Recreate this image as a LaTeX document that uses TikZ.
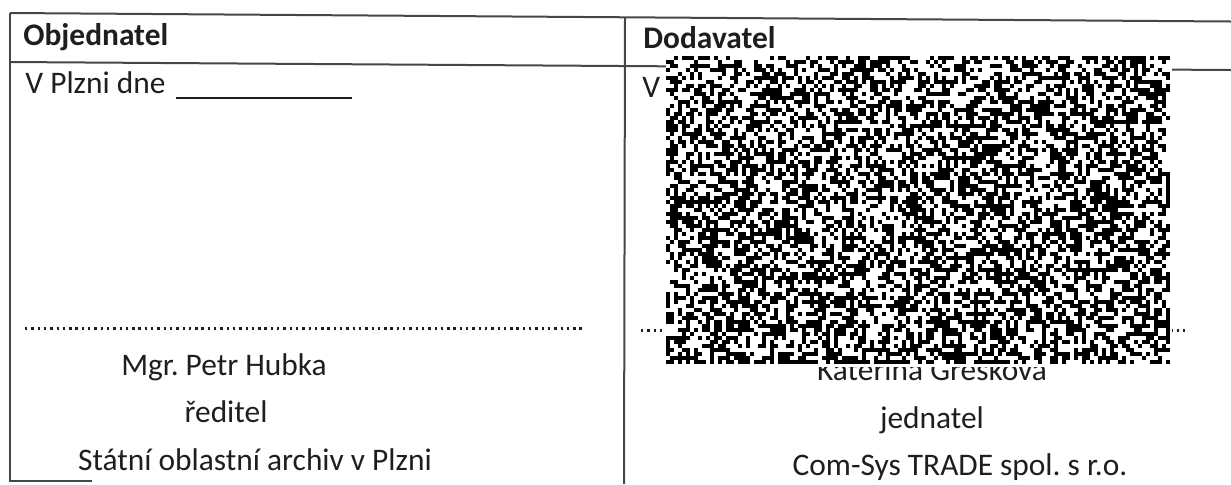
\documentclass[tikz,border=0pt]{standalone}
\usepackage{fontspec}
\setmainfont{Carlito}
\frenchspacing
\definecolor{ruleColor}{RGB}{70,70,70}
\definecolor{textColor}{RGB}{30,30,30}
\tikzset{cellText/.style={anchor=base west, inner sep=0pt, text=textColor, font=\fontsize{15.7}{19}\selectfont}}
\tikzset{headText/.style={cellText, font=\fontsize{15.7}{19}\selectfont\bfseries}}
\tikzset{signText/.style={cellText, anchor=base}}
\tikzset{tableRule/.style={draw=ruleColor, line width=1pt}}
\tikzset{dotRule/.style={draw=textColor, line width=1.5pt, dash pattern=on 1.2pt off 1.95pt}}

\begin{document}
\begin{tikzpicture}[x=0.5pt,y=-0.5pt]
\useasboundingbox (0,0) rectangle (1231,484);

% Table
\draw [tableRule] (10,13) -- (1231,21.5);
\draw [tableRule] (10,62) -- (1231,70);
\draw [tableRule] (10,13) -- (10,481) -- (92,481);
\draw [tableRule] (625,17) -- (624,484);

% Nodes
\node (Objednatel) [headText] at (23,45) {Objednatel};
\node (Dodavatel) [headText] at (643,48) {Dodavatel};

\node (PlaceLeft) [cellText] at (25,93) {V Plzni dne};
\node (PlaceRight) [cellText] at (642,97) {V};

\node (NameLeft) [signText] at (224,375) {Mgr. Petr Hubka};
\node (RoleLeft) [signText] at (226,422) {ředitel};
\node (OrgLeft) [signText] at (255,470) {Státní oblastní archiv v Plzni};

\node (NameRight) [signText] at (932,380) {Kateřina Grešková};
\node (RoleRight) [signText] at (932,428) {jednatel};
\node (OrgRight) [signText] at (960,475) {Com-Sys TRADE spol. s r.o.};

% Lines
\draw [tableRule, draw=textColor] (176,98) -- (352,98);
\draw [dotRule] (25,328) -- (585,328);
\draw [dotRule] (641,330) -- (1186,330);

% Redaction
\fill [white] (666,56) rectangle (1172,367);
\pgfmathsetseed{4711}
\foreach \i in {0,...,125}{
  \foreach \j in {0,...,76}{
    \pgfmathtruncatemacro\cellOn{rnd<0.52}
    \ifnum\cellOn=1
      \fill [black] (666+4*\i,56+4*\j) rectangle ++(4,4);
    \fi
  }
}

\end{tikzpicture}
\end{document}
